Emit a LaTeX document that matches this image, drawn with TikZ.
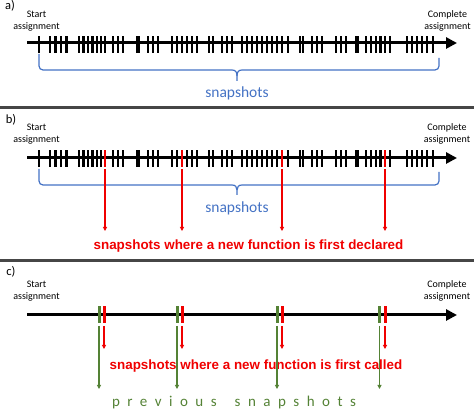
\documentclass[tikz,border=0pt]{standalone}
\usepackage{fontspec}
\setmainfont{Carlito}
\newfontfamily\arialf{Liberation Sans}
\newfontfamily\spacedf[LetterSpace=50]{Carlito}
\usetikzlibrary{arrows.meta}
\definecolor{ppblue}{RGB}{68,114,196}
\definecolor{ppgreen}{RGB}{84,130,53}
\definecolor{ppred}{RGB}{240,0,0}
\definecolor{sepgray}{RGB}{70,70,70}
\begin{document}
\begin{tikzpicture}[x=1pt,y=-1pt,
  axisline/.style={line width=3pt,-{Triangle[length=11pt,width=11pt]}},
  bracesty/.style={ppblue,line width=1.2pt},
  redarrow/.style={ppred,line width=1.3pt,-{Triangle[length=4pt,width=4pt]}},
  greenarrow/.style={ppgreen,line width=1.3pt,-{Triangle[length=4pt,width=4pt]}},
  sepline/.style={sepgray,line width=2.5pt},
  endlabel/.style={align=center,font=\fontsize{10}{12}\selectfont},
  partlabel/.style={font=\fontsize{12.5}{14}\selectfont},
  bluetext/.style={ppblue,font=\fontsize{15.5}{18}\selectfont},
  redtext/.style={ppred,font=\arialf\bfseries\fontsize{13.4}{16}\selectfont},
  greentext/.style={ppgreen,font=\spacedf\fontsize{15}{18}\selectfont}
]
\useasboundingbox (0,0) rectangle (474,411);
\def\blackticks{39,50,55.5,61,66.5,79,83.5,88,92.5,97,101,113,118,123,148,153,158,172,177,187,192,197,209,213,222,227,232,242,247,252,257,262,267,272,277,288,300,303,312,317,322,336,341,346,366,371,376,380.5,390,407,412,417,422,427,433}
\def\redticks{105,182,282,385}

% separators
\coordinate (s1a) at (0,107.5); \coordinate (s1b) at (474,107.5);
\coordinate (s2a) at (0,260.5); \coordinate (s2b) at (474,260.5);
\draw[sepline] (s1a) -- (s1b);
\draw[sepline] (s2a) -- (s2b);

% ---------- a) ----------
\node[partlabel] (la) at (10,5.5) {a)};
\node[endlabel] (sa) at (36.5,21) {Start\\assignment};
\node[endlabel] (ca) at (447.5,21) {Complete\\assignment};
\coordinate (a0) at (27,43); \coordinate (a1) at (457,43);
\draw[axisline] (a0) -- (a1);
\foreach \x in \blackticks {\fill (\x-1.4,36) rectangle (\x+1.4,53);}
\foreach \x in \redticks {\fill (\x-1.4,36) rectangle (\x+1.4,53);}
\fill (135.5,36) rectangle (139.5,53);
\fill (355,36) rectangle (359,53);
\draw[bracesty] (39,54) -- (39,66) to[out=-90,in=180] (43,70) -- (232,70)
  .. controls (235.5,70) and (237,72) .. (237,76) -- (237,81);
\draw[bracesty] (237,76) .. controls (237,72) and (238.5,70) .. (242,70)
  -- (435,70) to[out=0,in=-90] (439,66) -- (439,58);
\node[bluetext] (snapa) at (237,93) {snapshots};

% ---------- b) ----------
\node[partlabel] (lb) at (11,120) {b)};
\node[endlabel] (sb) at (36.5,134) {Start\\assignment};
\node[endlabel] (cb) at (447,134) {Complete\\assignment};
\coordinate (b0) at (27,158); \coordinate (b1) at (457,158);
\draw[axisline] (b0) -- (b1);
\foreach \x in \blackticks {\fill (\x-1.4,150) rectangle (\x+1.4,167);}
\foreach \x in \redticks {\fill[ppred] (\x-1.4,150) rectangle (\x+1.4,167);}
\fill (135.5,150) rectangle (139.5,167);
\fill (355,150) rectangle (359,167);
\draw[bracesty] (39,169) -- (39,181) to[out=-90,in=180] (43,185) -- (232,185)
  .. controls (235.5,185) and (237,187) .. (237,190) -- (237,195);
\draw[bracesty] (237,190) .. controls (237,187) and (238.5,185) .. (242,185)
  -- (435,185) to[out=0,in=-90] (439,181) -- (439,172);
\node[bluetext] (snapb) at (237,208) {snapshots};
\foreach \x [count=\i] in \redticks {
  \coordinate (bs\i) at (\x,169);
  \coordinate (be\i) at (\x,231);
  \draw[redarrow] (bs\i) -- (be\i);
}
\node[redtext] (declared) at (248.5,246.5) {snapshots where a new function is first declared};

% ---------- c) ----------
\node[partlabel] (lc) at (11,272) {c)};
\node[endlabel] (sc) at (36.5,291) {Start\\assignment};
\node[endlabel] (cc) at (447,291) {Complete\\assignment};
\coordinate (c0) at (27,315); \coordinate (c1) at (457,315);
\draw[axisline] (c0) -- (c1);
\node[redtext] (called) at (256,366) {snapshots where a new function is first called};
\node[greentext] (prev) at (234,403) {previous\hspace{18pt}snapshots};
\foreach \x [count=\i] in {99,177,277,379.5} {
  \fill[ppgreen] (\x-1.5,306) rectangle (\x+1.5,323);
  \coordinate (gs\i) at (\x,326);
  \coordinate (ge\i) at (\x,389);
  \draw[greenarrow] (gs\i) -- (ge\i);
}
\foreach \x [count=\i] in {104,182,282,385} {
  \fill[ppred] (\x-1.5,306) rectangle (\x+1.5,323);
  \coordinate (rs\i) at (\x,326);
  \coordinate (re\i) at (\x,349);
  \draw[redarrow] (rs\i) -- (re\i);
}
\end{tikzpicture}
\end{document}
